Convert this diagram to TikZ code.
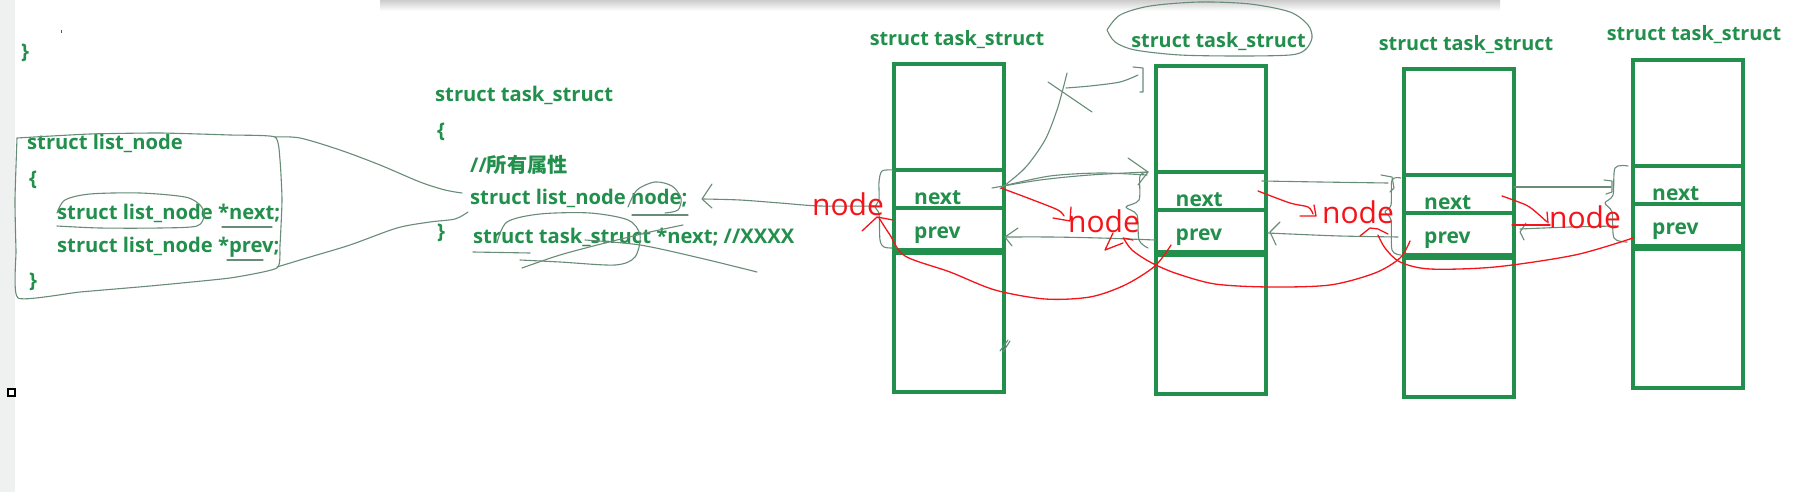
\documentclass[tikz,border=0pt]{standalone}
\usepackage{fontspec}
\setmainfont{Open Sans}
\newfontfamily\cjk{Noto Sans CJK SC}
\usetikzlibrary{positioning}
\definecolor{codegreen}{RGB}{34,144,76}
\definecolor{pengreen}{RGB}{104,140,120}
\definecolor{penred}{RGB}{245,20,25}
\definecolor{stripgray}{RGB}{238,241,239}
\begin{document}
\begin{tikzpicture}[x=1pt, y=-1pt,
        codeline/.style={anchor=west, inner sep=0pt, text=codegreen, font=\bfseries\fontsize{20.2}{23}\selectfont},
        heading/.style={inner sep=0pt, text=codegreen, font=\bfseries\fontsize{19.8}{22}\selectfont},
        field/.style={anchor=base west, inner sep=0pt, text=codegreen, font=\bfseries\fontsize{21}{24}\selectfont},
        cell/.style={draw=codegreen, line width=4pt, minimum width=110pt, outer sep=0pt, inner sep=0pt},
        thickrule/.style={draw=codegreen, line width=7pt},
        tag/.style={inner sep=0pt, text=penred, font=\fontsize{30}{33}\selectfont},
        sketch/.style={draw=pengreen, line width=1.1pt, line cap=round, line join=round},
        redsketch/.style={draw=penred, line width=1.3pt, line cap=round, line join=round}
    ]
        \useasboundingbox (0,0) rectangle (1812,492);
        \fill[white] (0,0) rectangle (1812,492);
        % Screen edges
        \fill[stripgray] (0,0) rectangle (15,492);
        \draw[line width=1.4pt, fill=white] (8,389) rectangle (15,396);
        \shade[top color=black!20, bottom color=white] (380,0) rectangle (1500,11);
        \fill[penred] (60.5,30) rectangle (61.5,33);

        % struct list_node
        \node[codeline] (topc) at (21,53) {\}};
        \node[codeline] (ln) at (27,143) {struct list\_node};
        \node[codeline] (lo) at (29,180) {\{};
        \node[codeline] (lnext) at (57,213) {struct list\_node *next;};
        \node[codeline] (lprev) at (57,247) {struct list\_node *prev;};
        \node[codeline] (lc) at (29,282) {\}};

        % struct task_struct
        \node[codeline] (ts) at (435,95) {struct task\_struct};
        \node[codeline] (to) at (437,132) {\{};
        \node[codeline] (attr) at (470,165) {//{\cjk 所有属性}};
        \node[codeline] (member) at (470,198) {struct list\_node node;};
        \node[codeline] (tc) at (437,233) {\}};
        \node[codeline] (nextptr) at (473,237) {struct task\_struct *next; //XXXX};

        % Hand marks on the code
        \draw[sketch] plot[smooth, tension=0.3] coordinates {(17,138) (90,134) (160,133) (230,135) (275,137) (280,160) (282,200) (280,245) (277,268) (230,278) (150,286) (80,292) (18,298) (16,250) (15,200) (17,138)};
        \draw[sketch] plot[smooth] coordinates {(275,137) (300,138) (340,150) (380,165) (420,182) (445,190) (462,193)};
        \draw[sketch] plot[smooth] coordinates {(277,267) (310,257) (350,245) (397,228) (430,222) (455,219) (468,212)};
        \draw[sketch] plot[smooth] coordinates {(57,213) (65,200) (90,194) (140,193) (185,197) (200,205) (204,215) (197,226) (160,228) (100,228) (57,226)};
        \draw[sketch] (222,227) -- (272,227);
        \draw[sketch] (227,260) -- (263,260);
        \draw[sketch] plot[smooth] coordinates {(628,207) (637,190) (655,182) (672,186) (681,198) (678,210) (665,213)};
        \draw[sketch] (632,215) -- (688,215);
        \draw[sketch] plot[smooth] coordinates {(497,243) (507,222) (540,214) (590,213) (628,220) (640,235) (635,257) (615,265) (560,262) (520,260)};
        \draw[sketch] plot[smooth] coordinates {(522,268) (560,255) (605,243) (650,232) (683,225)};
        \draw[sketch] plot[smooth] coordinates {(585,240) (640,245) (700,258) (757,272)};
        \draw[sketch] (473,252) -- (530,253);

        % Task boxes
        \node[cell, minimum height=106pt] (b1top) at (949,117) {};
        \node[cell, minimum height=38pt, below=0pt of b1top] (b1next) {};
        \node[cell, minimum height=43pt, below=0pt of b1next] (b1prev) {};
        \node[cell, minimum height=141pt, below=0pt of b1prev] (b1rest) {};
        \draw[thickrule] (b1prev.south west) -- (b1prev.south east);
        \node[heading] (ts1) at ([shift={(8,-24)}]b1top.north) {struct task\_struct};
        \node[field] (nx1) at ([shift={(20,-4)}]b1next.south west) {next};
        \node[field] (pv1) at ([shift={(20,-13)}]b1prev.south west) {prev};

        \node[cell, minimum height=106pt] (b2top) at (1210.5,119) {};
        \node[cell, minimum height=38pt, below=0pt of b2top] (b2next) {};
        \node[cell, minimum height=43pt, below=0pt of b2next] (b2prev) {};
        \node[cell, minimum height=141pt, below=0pt of b2prev] (b2rest) {};
        \draw[thickrule] (b2prev.south west) -- (b2prev.south east);
        \node[heading] (ts2) at ([shift={(8,-24)}]b2top.north) {struct task\_struct};
        \node[field] (nx2) at ([shift={(20,-4)}]b2next.south west) {next};
        \node[field] (pv2) at ([shift={(20,-13)}]b2prev.south west) {prev};

        \node[cell, minimum height=106pt] (b3top) at (1459,122) {};
        \node[cell, minimum height=38pt, below=0pt of b3top] (b3next) {};
        \node[cell, minimum height=43pt, below=0pt of b3next] (b3prev) {};
        \node[cell, minimum height=141pt, below=0pt of b3prev] (b3rest) {};
        \draw[thickrule] (b3prev.south west) -- (b3prev.south east);
        \node[heading] (ts3) at ([shift={(7,-24)}]b3top.north) {struct task\_struct};
        \node[field] (nx3) at ([shift={(20,-4)}]b3next.south west) {next};
        \node[field] (pv3) at ([shift={(20,-13)}]b3prev.south west) {prev};

        \node[cell, minimum height=106pt] (b4top) at (1688,113) {};
        \node[cell, minimum height=38pt, below=0pt of b4top] (b4next) {};
        \node[cell, minimum height=43pt, below=0pt of b4next] (b4prev) {};
        \node[cell, minimum height=141pt, below=0pt of b4prev] (b4rest) {};
        \draw[thickrule] (b4prev.south west) -- (b4prev.south east);
        \node[heading] (ts4) at ([shift={(6,-25)}]b4top.north) {struct task\_struct};
        \node[field] (nx4) at ([shift={(19,-4)}]b4next.south west) {next};
        \node[field] (pv4) at ([shift={(19,-13)}]b4prev.south west) {prev};

        % Hand marks between the boxes
        \draw[sketch] plot[smooth] coordinates {(1107,30) (1120,15) (1150,6) (1200,2) (1250,4) (1290,12) (1308,25) (1312,38) (1305,50) (1290,55) (1240,56) (1180,55) (1135,50) (1115,42) (1107,30)};
        \draw[sketch] plot[smooth] coordinates {(893,170) (882,171) (879,182) (879,200) (875,207) (879,214) (880,240) (884,247) (892,248)};
        \draw[sketch] plot[smooth] coordinates {(877,206) (820,206) (780,203) (740,200) (703,199)};
        \draw[sketch] (712,184) -- (702,199) -- (712,208);
        \draw[sketch] plot[smooth] coordinates {(1000,189) (1025,168) (1045,140) (1057,110) (1064,85) (1067,73)};
        \draw[sketch] plot[smooth] coordinates {(1066,88) (1090,86) (1120,82) (1138,75)};
        \draw[sketch] (1133,67) -- (1143,68) -- (1143,92) -- (1140,92);
        \draw[sketch] (1048,82) -- (1092,112);
        \draw[sketch] plot[smooth] coordinates {(992,188) (1040,180) (1090,175) (1147,172)};
        \draw[sketch] plot[smooth] coordinates {(1003,186) (1050,176) (1100,173) (1147,175)};
        \draw[sketch] (1128,158) -- (1148,172) -- (1138,185);
        \draw[sketch] plot[smooth] coordinates {(1148,172) (1140,176) (1139,200) (1126,207) (1137,215) (1139,240) (1148,248)};
        \draw[sketch] plot[smooth] coordinates {(1155,240) (1100,238) (1050,237) (1005,237)};
        \draw[sketch] (1018,228) -- (1005,237) -- (1012,246);
        \draw[sketch] plot[smooth] coordinates {(1262,181) (1320,182) (1388,183)};
        \draw[sketch] (1381,175) -- (1392,177) -- (1394,188) -- (1390,192);
        \draw[sketch] plot[smooth] coordinates {(1401,178) (1392,180) (1391,205) (1385,212) (1391,220) (1392,250) (1401,255)};
        \draw[sketch] plot[smooth] coordinates {(1398,237) (1340,236) (1290,234) (1268,233)};
        \draw[sketch] (1280,222) -- (1270,232) -- (1276,245);
        \draw[sketch] plot[smooth] coordinates {(1514,187) (1570,187) (1611,187)};
        \draw[sketch] (1604,180) -- (1612,181) -- (1612,192) -- (1606,194);
        \draw[sketch] plot[smooth] coordinates {(1628,166) (1615,168) (1613,195) (1605,203) (1612,212) (1614,238) (1627,242)};
        \draw[sketch] plot[smooth] coordinates {(1616,226) (1570,227) (1520,229)};
        \draw[sketch] (1526,223) -- (1520,232) -- (1524,240);
        \draw[sketch] (1000,351) -- (1008,340);
        \draw[sketch] (1003,352) -- (1010,341);

        % Red node labels
        \node[tag] (tag1) at (848,204) {node};
        \node[tag] (tag2) at (1104,221) {node};
        \node[tag] (tag3) at (1358,212) {node};
        \node[tag] (tag4) at (1585,217) {node};

        % Red next links
        \draw[redsketch] plot[smooth] coordinates {(1001,188) (1033,200) (1058,210) (1064,216)};
        \draw[redsketch] (1053,218) -- (1070,221) -- (1071,207);
        \draw[redsketch] plot[smooth] coordinates {(1258,191) (1290,203) (1308,207) (1313,214)};
        \draw[redsketch] (1300,216) -- (1316,216) -- (1314,205);
        \draw[redsketch] plot[smooth] coordinates {(1502,196) (1526,205) (1537,213) (1547,222)};
        \draw[redsketch] (1547,212) -- (1548,223);
        \draw[redsketch] (1512,225) -- (1550,225);

        % Red prev links
        \draw[redsketch] plot[smooth] coordinates {(1171,245) (1155,266) (1125,285) (1090,297) (1045,299) (995,290) (950,272) (905,256) (890,235) (879,218)};
        \draw[redsketch] (862,231) -- (877,217) -- (893,220);
        \draw[redsketch] plot[smooth] coordinates {(1410,241) (1400,258) (1375,273) (1330,285) (1270,287) (1215,284) (1175,273) (1150,262) (1132,250) (1124,239)};
        \draw[redsketch] (1113,233) -- (1105,250) -- (1123,243);
        \draw[redsketch] (1123,238) -- (1133,240);
        \draw[redsketch] plot[smooth] coordinates {(1633,238) (1575,255) (1495,267) (1430,269) (1400,262) (1385,248) (1378,235)};
        \draw[redsketch] (1360,236) -- (1370,228) -- (1378,229) -- (1388,234);
    \end{tikzpicture}
\end{document}
